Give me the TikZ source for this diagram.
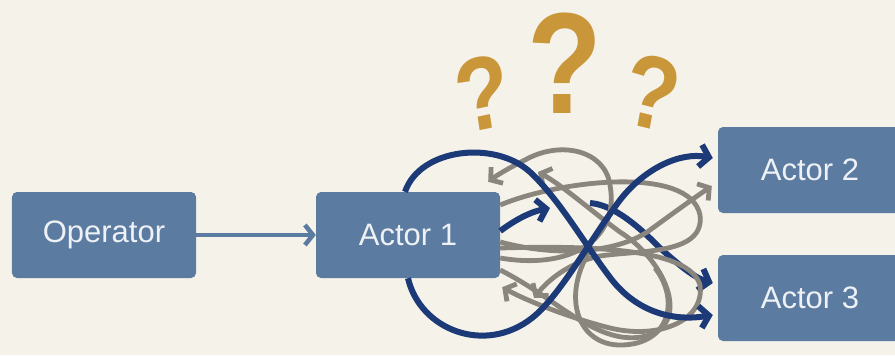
\documentclass[tikz,border=0pt]{standalone}
\usepackage{fontspec}
\setmainfont{Liberation Sans}
\usetikzlibrary{positioning,arrows.meta,calc}
\definecolor{paper}{HTML}{F5F2EA}
\definecolor{boxblue}{HTML}{5B7BA1}
\definecolor{navy}{HTML}{1C3978}
\definecolor{tangle}{HTML}{8A857D}
\definecolor{gold}{HTML}{C9973A}
\definecolor{boxtext}{HTML}{EEF1F5}

\begin{document}
\begin{tikzpicture}[x=1bp,y=-1bp,>={Straight Barb[length=9bp,width=22bp]},
  node distance=304bp,on grid,
  actor/.style={fill=boxblue,rounded corners=5bp,minimum width=184bp,minimum height=86bp,
    text=boxtext,font=\fontsize{31bp}{33bp}\selectfont},
  navywire/.style={draw=navy,line width=6bp,->},
  graywire/.style={draw=tangle,line width=4.8bp,-{Straight Barb[length=8bp,width=20bp]}},
  puzzle/.style={text=gold,inner sep=0pt,xscale=0.85,font=\fontsize{#1}{#1}\selectfont\bfseries}]
  \clip (0,0) rectangle (895,355);
  \fill[paper] (0,0) rectangle (895,355);

  \node[actor] (op) at (104,235) {Operator};
  \node[actor] (a1) [right=of op] {Actor 1};
  \node[actor] (a2) [above right=65bp and 402bp of a1] {Actor 2};
  \node[actor] (a3) [below right=63bp and 402bp of a1] {Actor 3};

  \node[puzzle=144bp] (qmid) at (565,63) {?};
  \node[puzzle=104bp,rotate=10] (qleft) at (483,93) {?};
  \node[puzzle=104bp,rotate=-12] (qright) at (652,93) {?};

  \draw[draw=boxblue,line width=4.5bp,-{Straight Barb[length=8bp,width=20bp]}] (op) -- (a1);

  % free ends inside the tangle
  \coordinate (ga) at (538,172);
  \coordinate (gb) at (534,298);
  \coordinate (bs) at (590,203);
  \coordinate (bt) at (550,208);

  \path[navywire] (bs) .. controls (615,205) and (640,228) .. (660,248)
    .. controls (680,266) and (695,278) .. ($(a3.west)+(-5,-15)$);

  % grey tangle
  \path[graywire] ($(a1.east)+(0,23)$) .. controls (570,270) and (620,240) .. (610,185)
    .. controls (605,150) and (560,140) .. (525,160)
    .. controls (505,170) and (496,176) .. ($(a1.north east)+(-12,-10)$);
  \path[graywire] ($(a1.east)+(0,35)$) .. controls (560,300) and (600,350) .. (650,335)
    .. controls (690,320) and (665,260) .. (620,232)
    .. controls (590,210) and (562,185) .. (ga);
  \path[graywire] ($(a1.east)+(0,13)$) .. controls (600,245) and (690,250) .. (700,285)
    .. controls (705,320) and (660,340) .. (610,328)
    .. controls (570,318) and (525,300) .. ($(a1.south east)+(2,9)$);
  \path[graywire] ($(a1.east)+(0,-30)$) .. controls (560,180) and (690,165) .. (700,215)
    .. controls (705,255) and (640,250) .. (600,256)
    .. controls (570,262) and (548,280) .. (gb);
  \path[graywire] ($(a1.east)+(0,7)$) .. controls (560,258) and (620,252) .. (650,230)
    .. controls (672,214) and (694,198) .. ($(a2.west)+(-6,16)$);
  \draw[draw=tangle,line width=4.8bp] (590,250) .. controls (560,300) and (580,345) .. (620,345)
    .. controls (670,345) and (680,300) .. (655,268);

  % navy crossings
  \path[navywire] ($(a1.north)+(-3,0)$) .. controls (420,148) and (495,140) .. (530,172)
    .. controls (560,200) and (585,245) .. (612,280)
    .. controls (636,310) and (670,322) .. ($(a3.west)+(-5,17)$);
  \path[navywire] (a1.south) .. controls (420,330) and (485,355) .. (532,318)
    .. controls (560,296) and (590,240) .. (620,200)
    .. controls (645,168) and (680,152) .. ($(a2.west)+(-5,-12)$);
  \path[navywire] ($(a1.east)+(0,-4)$) .. controls (515,220) and (530,212) .. (bt);
\end{tikzpicture}
\end{document}
